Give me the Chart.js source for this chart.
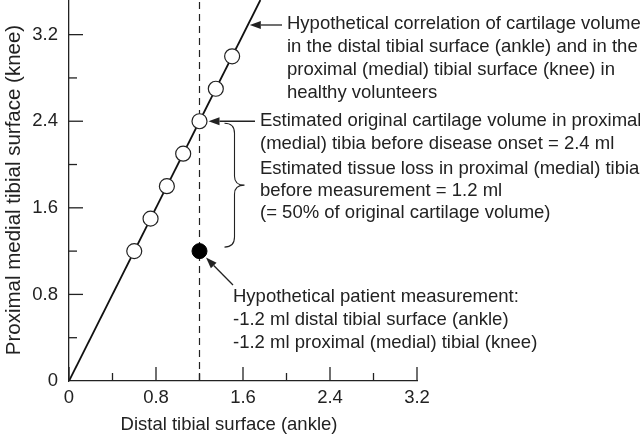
<!DOCTYPE html>
<html>
<head>
<meta charset="utf-8">
<script src="https://cdn.jsdelivr.net/npm/chart.js@4"></script>
<style>
  html, body { margin: 0; padding: 0; background: #fff; }
  #wrap { width: 640px; height: 439px; }
</style>
</head>
<body>
<div id="wrap"><canvas id="chart" width="640" height="439"></canvas></div>
<script>
// healthy volunteers (open circles)
const healthyX = [0.6, 0.75, 0.9, 1.05, 1.2, 1.35, 1.5];
const healthyY = [1.2, 1.5, 1.8, 2.1, 2.4, 2.7, 3.0];
// correlation line
const lineX = [0, 1.76];
const lineY = [0, 3.52];
// patient measurement (filled)
const patientX = [1.2];
const patientY = [1.2];
// dashed reference at ankle = 1.2
const dashX = [1.2, 1.2];
const dashY = [0, 3.52];
// axis ticks
const tickValues = [0, 0.4, 0.8, 1.2, 1.6, 2.0, 2.4, 2.8, 3.2];
const tickLabels = ['0', '', '0.8', '', '1.6', '', '2.4', '', '3.2'];

const FONT = '"Liberation Sans", Arial, sans-serif';
const pts = (xs, ys) => xs.map((x, i) => ({ x: x, y: ys[i] }));

const annotations = {
    id: 'annotations',
    afterDraw(chart) {
        const ctx = chart.ctx;
        const xs = chart.scales.x, ys = chart.scales.y;
        const area = chart.chartArea;
        ctx.save();
        ctx.strokeStyle = '#222';
        ctx.fillStyle = '#222';
        ctx.lineWidth = 1.3;

        // inward ticks
        tickValues.forEach((v, i) => {
            const len = tickLabels[i] !== '' ? 14 : 8;
            const px = xs.getPixelForValue(v);
            ctx.beginPath();
            ctx.moveTo(px, area.bottom);
            ctx.lineTo(px, area.bottom - len);
            ctx.stroke();
            if (v > 0) {
                const py = ys.getPixelForValue(v);
                ctx.beginPath();
                ctx.moveTo(area.left, py);
                ctx.lineTo(area.left + len, py);
                ctx.stroke();
            }
        });

        // axis titles
        ctx.textBaseline = 'middle';
        ctx.textAlign = 'center';
        ctx.font = '18.5px ' + FONT;
        ctx.fillText('Distal tibial surface (ankle)', 229, 425);
        ctx.save();
        ctx.font = '20.5px ' + FONT;
        ctx.translate(14, 190);
        ctx.rotate(-Math.PI / 2);
        ctx.fillText('Proximal medial tibial surface (knee)', 0, 0);
        ctx.restore();

        // text blocks
        ctx.textAlign = 'left';
        const block = (lines, x, y0, lh) => lines.forEach((t, i) => ctx.fillText(t, x, y0 + i * lh));
        block(['Hypothetical correlation of cartilage volume',
               'in the distal tibial surface (ankle) and in the',
               'proximal (medial) tibial surface (knee) in',
               'healthy volunteers'], 287, 24, 23);
        block(['Estimated original cartilage volume in proximal',
               '(medial) tibia before disease onset = 2.4 ml'], 260, 121, 23);
        block(['Estimated tissue loss in proximal (medial) tibia',
               'before measurement = 1.2 ml',
               '(= 50% of original cartilage volume)'], 260, 169, 22);
        block(['Hypothetical patient measurement:',
               '-1.2 ml distal tibial surface (ankle)',
               '-1.2 ml proximal (medial) tibial (knee)'], 233, 297, 23);

        // arrows
        const arrow = (x1, y1, x2, y2) => {
            const a = Math.atan2(y2 - y1, x2 - x1);
            const hl = 11, hw = 4;
            ctx.beginPath();
            ctx.moveTo(x1, y1);
            ctx.lineTo(x2 - hl * Math.cos(a), y2 - hl * Math.sin(a));
            ctx.stroke();
            ctx.beginPath();
            ctx.moveTo(x2, y2);
            ctx.lineTo(x2 - hl * Math.cos(a) + hw * Math.sin(a), y2 - hl * Math.sin(a) - hw * Math.cos(a));
            ctx.lineTo(x2 - hl * Math.cos(a) - hw * Math.sin(a), y2 - hl * Math.sin(a) + hw * Math.cos(a));
            ctx.closePath();
            ctx.fill();
        };
        const ly = 25;
        const lx = xs.getPixelForValue(ys.getValueForPixel(ly) / 2);
        arrow(282, ly, lx + 2, ly);
        const px2 = xs.getPixelForValue(1.2), py2 = ys.getPixelForValue(2.4);
        arrow(255, py2, px2 + 9, py2);
        const px3 = xs.getPixelForValue(patientX[0]), py3 = ys.getPixelForValue(patientY[0]);
        arrow(233, 285, px3 + 6.5, py3 + 6.5);

        // curly brace
        const bt = ys.getPixelForValue(2.4) + 2;
        const bb = ys.getPixelForValue(1.2) - 4;
        const bm = (bt + bb) / 2;
        const bx = px2 + 25;
        ctx.lineWidth = 1.1;
        ctx.beginPath();
        ctx.moveTo(bx, bt);
        ctx.quadraticCurveTo(bx + 10, bt, bx + 10, bt + 10);
        ctx.lineTo(bx + 10, bm - 9);
        ctx.quadraticCurveTo(bx + 10, bm, bx + 20, bm);
        ctx.quadraticCurveTo(bx + 10, bm, bx + 10, bm + 9);
        ctx.lineTo(bx + 10, bb - 10);
        ctx.quadraticCurveTo(bx + 10, bb, bx, bb);
        ctx.stroke();
        ctx.restore();
    }
};

const noPad = s => { s.paddingTop = 0; s.paddingBottom = 0; s.paddingLeft = 0; s.paddingRight = 0; };

new Chart(document.getElementById('chart'), {
    type: 'scatter',
    data: {
        datasets: [
            {
                data: pts(dashX, dashY),
                showLine: true,
                borderColor: '#222',
                borderWidth: 1.2,
                borderDash: [7, 5],
                pointRadius: 0,
                order: 4
            },
            {
                data: pts(lineX, lineY),
                showLine: true,
                borderColor: '#111',
                borderWidth: 1.8,
                pointRadius: 0,
                order: 3
            },
            {
                data: pts(healthyX, healthyY),
                pointRadius: 7.5,
                pointBackgroundColor: '#fff',
                pointBorderColor: '#222',
                pointBorderWidth: 1.2,
                order: 2
            },
            {
                data: pts(patientX, patientY),
                pointRadius: 7.5,
                pointBackgroundColor: '#000',
                pointBorderColor: '#000',
                pointBorderWidth: 1,
                order: 1
            }
        ]
    },
    options: {
        responsive: false,
        animation: false,
        layout: { autoPadding: false, padding: { left: 0, right: 223, top: 0, bottom: 0 } },
        plugins: { legend: { display: false }, tooltip: { enabled: false } },
        scales: {
            x: {
                type: 'linear',
                min: 0,
                max: 3.2,
                afterBuildTicks: s => { s.ticks = tickValues.map(v => ({ value: v })); },
                afterFit: s => { s.height = 58; noPad(s); },
                grid: { display: false, drawTicks: false },
                border: { display: true, color: '#222', width: 1.3 },
                ticks: {
                    padding: 6,
                    color: '#222',
                    font: { family: FONT, size: 18.5 },
                    maxRotation: 0,
                    autoSkip: false,
                    callback: (v, i) => tickLabels[i]
                }
            },
            y: {
                type: 'linear',
                min: 0,
                max: 3.52,
                afterBuildTicks: s => { s.ticks = tickValues.map(v => ({ value: v })); },
                afterFit: s => { s.width = 69; noPad(s); },
                grid: { display: false, drawTicks: false },
                border: { display: true, color: '#222', width: 1.3 },
                ticks: {
                    padding: 11,
                    color: '#222',
                    font: { family: FONT, size: 18.5 },
                    autoSkip: false,
                    callback: (v, i) => tickLabels[i]
                }
            }
        }
    },
    plugins: [annotations]
});
</script>
</body>
</html>
